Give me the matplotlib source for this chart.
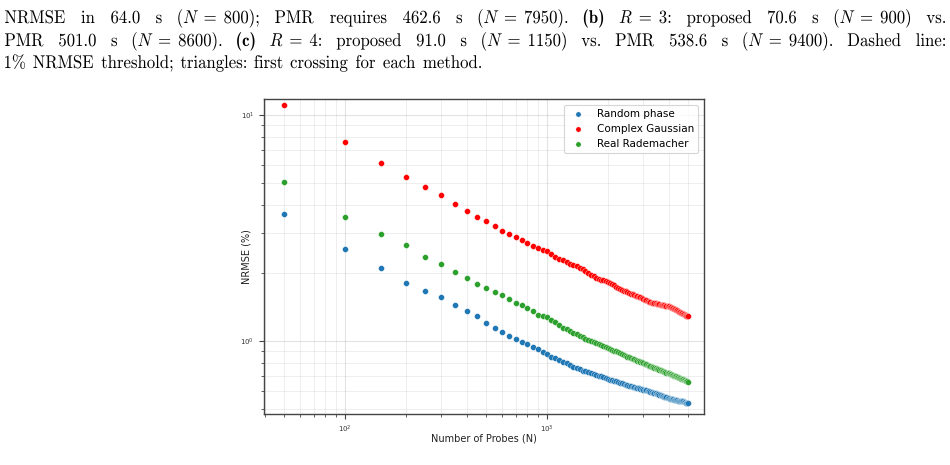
import matplotlib
matplotlib.use("Agg")
import matplotlib.pyplot as plt
from matplotlib.textpath import TextPath
from matplotlib.patches import PathPatch
from matplotlib.font_manager import FontProperties
from matplotlib.transforms import Affine2D, IdentityTransform

# ---------------- data ----------------
n_probes = list(range(50, 5001, 50))

random_phase = [
    3.65, 2.55, 2.11, 1.81, 1.66, 1.56, 1.44, 1.36, 1.29, 1.205,
    1.146, 1.093, 1.052, 1.02, 0.993, 0.967, 0.941, 0.919, 0.891, 0.873,
    0.850, 0.838, 0.824, 0.807, 0.797, 0.779, 0.768, 0.757, 0.748, 0.739,
    0.733, 0.727, 0.720, 0.714, 0.708, 0.703, 0.697, 0.691, 0.685, 0.679,
    0.674, 0.670, 0.666, 0.662, 0.658, 0.654, 0.650, 0.646, 0.641, 0.637,
    0.633, 0.630, 0.627, 0.624, 0.622, 0.620, 0.617, 0.615, 0.612, 0.609,
    0.607, 0.604, 0.601, 0.598, 0.596, 0.593, 0.590, 0.588, 0.586, 0.583,
    0.580, 0.578, 0.575, 0.572, 0.569, 0.567, 0.564, 0.562, 0.560, 0.558,
    0.556, 0.555, 0.553, 0.552, 0.550, 0.549, 0.547, 0.546, 0.545, 0.544,
    0.543, 0.542, 0.541, 0.540, 0.538, 0.536, 0.534, 0.532, 0.531, 0.529,
]

complex_gaussian = [
    11.1, 7.62, 6.13, 5.30, 4.82, 4.41, 4.05, 3.77, 3.55, 3.39,
    3.22, 3.08, 2.97, 2.88, 2.80, 2.71, 2.64, 2.59, 2.52, 2.49,
    2.42, 2.36, 2.30, 2.275, 2.237, 2.198, 2.17, 2.14, 2.11, 2.08,
    2.04, 2.00, 1.96, 1.93, 1.90, 1.885, 1.87, 1.855, 1.835, 1.815,
    1.80, 1.78, 1.76, 1.735, 1.71, 1.693, 1.68, 1.668, 1.656, 1.645,
    1.634, 1.622, 1.611, 1.600, 1.588, 1.577, 1.567, 1.558, 1.547, 1.536,
    1.525, 1.514, 1.503, 1.495, 1.487, 1.479, 1.472, 1.469, 1.467, 1.463,
    1.458, 1.453, 1.449, 1.445, 1.441, 1.437, 1.434, 1.431, 1.429, 1.426,
    1.418, 1.41, 1.402, 1.394, 1.386, 1.379, 1.372, 1.366, 1.358, 1.35,
    1.342, 1.335, 1.327, 1.32, 1.313, 1.307, 1.301, 1.296, 1.292, 1.289,
]

real_rademacher = [
    5.04, 3.55, 2.98, 2.65, 2.36, 2.20, 2.02, 1.90, 1.79, 1.72,
    1.65, 1.59, 1.53, 1.477, 1.439, 1.394, 1.357, 1.308, 1.285, 1.273,
    1.239, 1.21, 1.174, 1.146, 1.127, 1.107, 1.09, 1.073, 1.057, 1.038,
    1.025, 1.014, 1.002, 0.991, 0.980, 0.970, 0.961, 0.951, 0.941, 0.931,
    0.924, 0.916, 0.907, 0.899, 0.890, 0.882, 0.874, 0.866, 0.858, 0.850,
    0.845, 0.840, 0.835, 0.830, 0.825, 0.819, 0.814, 0.809, 0.803, 0.798,
    0.793, 0.788, 0.783, 0.778, 0.773, 0.768, 0.764, 0.760, 0.756, 0.752,
    0.748, 0.744, 0.741, 0.738, 0.734, 0.731, 0.728, 0.725, 0.722, 0.719,
    0.715, 0.712, 0.709, 0.706, 0.703, 0.700, 0.697, 0.694, 0.691, 0.688,
    0.685, 0.682, 0.679, 0.676, 0.673, 0.670, 0.667, 0.665, 0.662, 0.660,
]

series_labels = ["Random phase", "Complex Gaussian", "Real Rademacher"]
series_colors = ["#1f77b4", "#ff0000", "#2ca02c"]

caption_line1 = ["NRMSE", "in", "64.0", "s", r"($N\;{=}\;800$);", "PMR", "requires",
                 "462.6", "s", r"($N\;{=}\;7950$).", "(b)", r"$R\;{=}\;3$:", "proposed",
                 "70.6", "s", r"($N\;{=}\;900$)", "vs."]
caption_line2 = ["PMR", "501.0", "s", r"($N\;{=}\;8600$).", "(c)", r"$R\;{=}\;4$:", "proposed",
                 "91.0", "s", r"($N\;{=}\;1150$)", "vs.", "PMR", "538.6", "s",
                 r"($N\;{=}\;9400$).", "Dashed", "line:"]
caption_line3 = ["1%", "NRMSE", "threshold;", "triangles:", "first", "crossing",
                 "for", "each", "method."]
bold_tokens = {"(b)", "(c)"}

# ---------------- figure ----------------
plt.rcParams["mathtext.fontset"] = "cm"
fig = plt.figure(figsize=(9.5, 4.65), dpi=100)

ax = fig.add_axes([264 / 950, 1 - 414 / 465, (703.5 - 264) / 950, (414 - 99.3) / 465])
for vals, lab, col in zip([random_phase, complex_gaussian, real_rademacher],
                          series_labels, series_colors):
    ax.scatter(n_probes, vals, s=18, color=col, label=lab,
               edgecolors="white", linewidths=0.25, zorder=3)

ax.set_xscale("log")
ax.set_yscale("log")
ax.set_xlim(39.7, 5950)
ax.set_ylim(0.475, 11.74)
ax.grid(True, which="major", color="#b0b0b0", alpha=0.35, lw=0.8)
ax.grid(True, which="minor", color="#b0b0b0", alpha=0.25, lw=0.6)
ax.set_axisbelow(True)
for sp in ax.spines.values():
    sp.set_color("#444444")
    sp.set_linewidth(1.0)
ax.tick_params(which="both", colors="#444444", labelsize=5, labelcolor="#333333")
ax.tick_params(which="major", length=3.5, width=0.8)
ax.tick_params(which="minor", length=2, width=0.6)
ax.set_xlabel("Number of Probes (N)", fontsize=7, color="#222222", labelpad=-1)
ax.set_ylabel("NRMSE (%)", fontsize=7, color="#222222", labelpad=-8)
leg = ax.legend(loc="upper right", fontsize=7.5, markerscale=0.9,
                frameon=True, fancybox=True, borderpad=0.4, handletextpad=0.8)
leg.get_frame().set_edgecolor("#cccccc")
leg.get_frame().set_linewidth(0.8)

# ---------------- caption text (justified, horizontally condensed) ----------------
cap_pt = 13.3
px_per_pt = 100 / 72
prop_r = FontProperties(family="cmr10")
prop_b = FontProperties(family="cmb10")
space_pt = 0.5 * cap_pt
X_LEFT, X_RIGHT = 5.0, 945.0
LINE3_END = 481.0


def token_paths(tokens):
    out = []
    for tk in tokens:
        p = TextPath((0, 0), tk, size=cap_pt,
                     prop=prop_b if tk in bold_tokens else prop_r)
        ext = p.get_extents()
        out.append((p, ext.x0, ext.x1 - ext.x0))
    return out


line3 = token_paths(caption_line3)
nat3 = sum(w for _, _, w in line3) + space_pt * (len(line3) - 1)
sx = (LINE3_END - X_LEFT) / (nat3 * px_per_pt)


def place(paths, baseline_px, justify):
    total_w = sum(w for _, _, w in paths) * px_per_pt * sx
    if justify:
        gap = (X_RIGHT - X_LEFT - total_w) / (len(paths) - 1)
    else:
        gap = space_pt * px_per_pt * sx
    x = X_LEFT
    y = 465 - baseline_px
    for p, x0, w in paths:
        tr = Affine2D().translate(-x0, 0).scale(px_per_pt * sx, px_per_pt).translate(x, y)
        patch = PathPatch(tr.transform_path(p), facecolor="black", edgecolor="none",
                          transform=IdentityTransform())
        fig.add_artist(patch)
        x += w * px_per_pt * sx + gap


place(token_paths(caption_line1), 23, True)
place(token_paths(caption_line2), 46, True)
place(line3, 68, False)

# invisible real-text copies of the caption
for txt, yb in [(" ".join(caption_line1), 23), (" ".join(caption_line2), 46),
                (" ".join(caption_line3), 68)]:
    fig.text(X_LEFT / 950, 1 - yb / 465, txt, fontsize=cap_pt, family="cmr10",
             alpha=0.0)

fig.savefig("out.png", dpi=100)
